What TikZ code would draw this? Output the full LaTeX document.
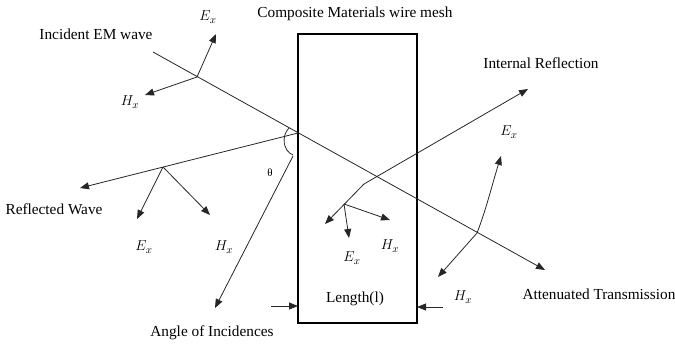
\documentclass[tikz,border=0pt]{standalone}
\usepackage{fontspec}
\setmainfont{Liberation Serif}
\usetikzlibrary{arrows.meta}

\begin{document}
\begin{tikzpicture}[x=1pt,y=-1pt, every node/.style={font=\fontsize{15.3}{18}\selectfont, inner sep=0pt},
  wave/.style={line width=0.8pt, black!85},
  arr/.style={wave, -{Triangle[length=9pt,width=7pt]}}]
  \useasboundingbox (0,0) rectangle (675,346);

  % the mesh slab
  \draw[line width=1.6pt] (298,34) rectangle (417,323);

  % main points of the rays
  \coordinate (incstart) at (153,52);
  \coordinate (hit) at (298,133);
  \coordinate (atttip) at (545,270);
  \coordinate (reftip) at (80,188);
  \coordinate (irtip) at (528,89);
  \coordinate (irbend) at (364,184);
  \coordinate (irend) at (325,224);
  \coordinate (angstart) at (293,156);
  \coordinate (angtip) at (215,308);

  % field origins and tips
  \coordinate (o1) at (197,77);
  \coordinate (e1) at (216,34);
  \coordinate (h1) at (145,95);
  \coordinate (o2) at (163,167);
  \coordinate (e2) at (137,219);
  \coordinate (h2) at (210,215);
  \coordinate (o3) at (344,204);
  \coordinate (e3) at (349,238);
  \coordinate (h3) at (390,220);
  \coordinate (o4) at (477,233);
  \coordinate (e4) at (501,156);
  \coordinate (h4) at (438,277);

  % incident and transmitted ray
  \draw[arr] (incstart) -- (atttip);
  % reflected ray
  \draw[arr] (hit) -- (reftip);
  % internal reflection
  \draw[arr] (irbend) -- (irtip);
  \draw[arr] (irbend) -- (irend);
  % angle of incidence
  \draw[arr] (angstart) -- (angtip);
  \draw[wave] (289,128) .. controls (281,136) and (283,151) .. (293,155);

  % E and H vectors
  \draw[arr] (o1) -- (e1);
  \draw[arr] (o1) -- (h1);
  \draw[arr] (o2) -- (e2);
  \draw[arr] (o2) -- (h2);
  \draw[arr] (o3) -- (e3);
  \draw[arr] (o3) -- (h3);
  \draw[arr] (o4) .. controls (486,210) and (492,185) .. (e4);
  \draw[arr] (o4) -- (h4);

  % length arrows
  \coordinate (lenl) at (271,306);
  \coordinate (lenr) at (443,307);
  \draw[arr] (lenl) -- (298,306);
  \draw[arr] (lenr) -- (417,307);

  % labels
  \node (tmesh) at (355,14) {Composite Materials wire mesh};
  \node (tinc) at (96,34) {Incident EM wave};
  \node (tint) at (541,63) {Internal Reflection};
  \node (tref) at (54,209) {Reflected Wave};
  \node (tang) at (212,333) {Angle of Incidences};
  \node (tlen) at (355,299) {Length(l)};
  \node (tatt) at (599,294) {Attenuated Transmission};
  \node (ttheta) at (270,173) {\fontsize{11}{11}\selectfont θ};

  \node (le1) at (208,17) {$E_x$};
  \node (lh1) at (130,102) {$H_x$};
  \node (le2) at (144,247) {$E_x$};
  \node (lh2) at (224,247) {$H_x$};
  \node (le3) at (352,258) {$E_x$};
  \node (lh3) at (390,246) {$H_x$};
  \node (le4) at (509,132) {$E_x$};
  \node (lh4) at (463,297) {$H_x$};
\end{tikzpicture}
\end{document}
